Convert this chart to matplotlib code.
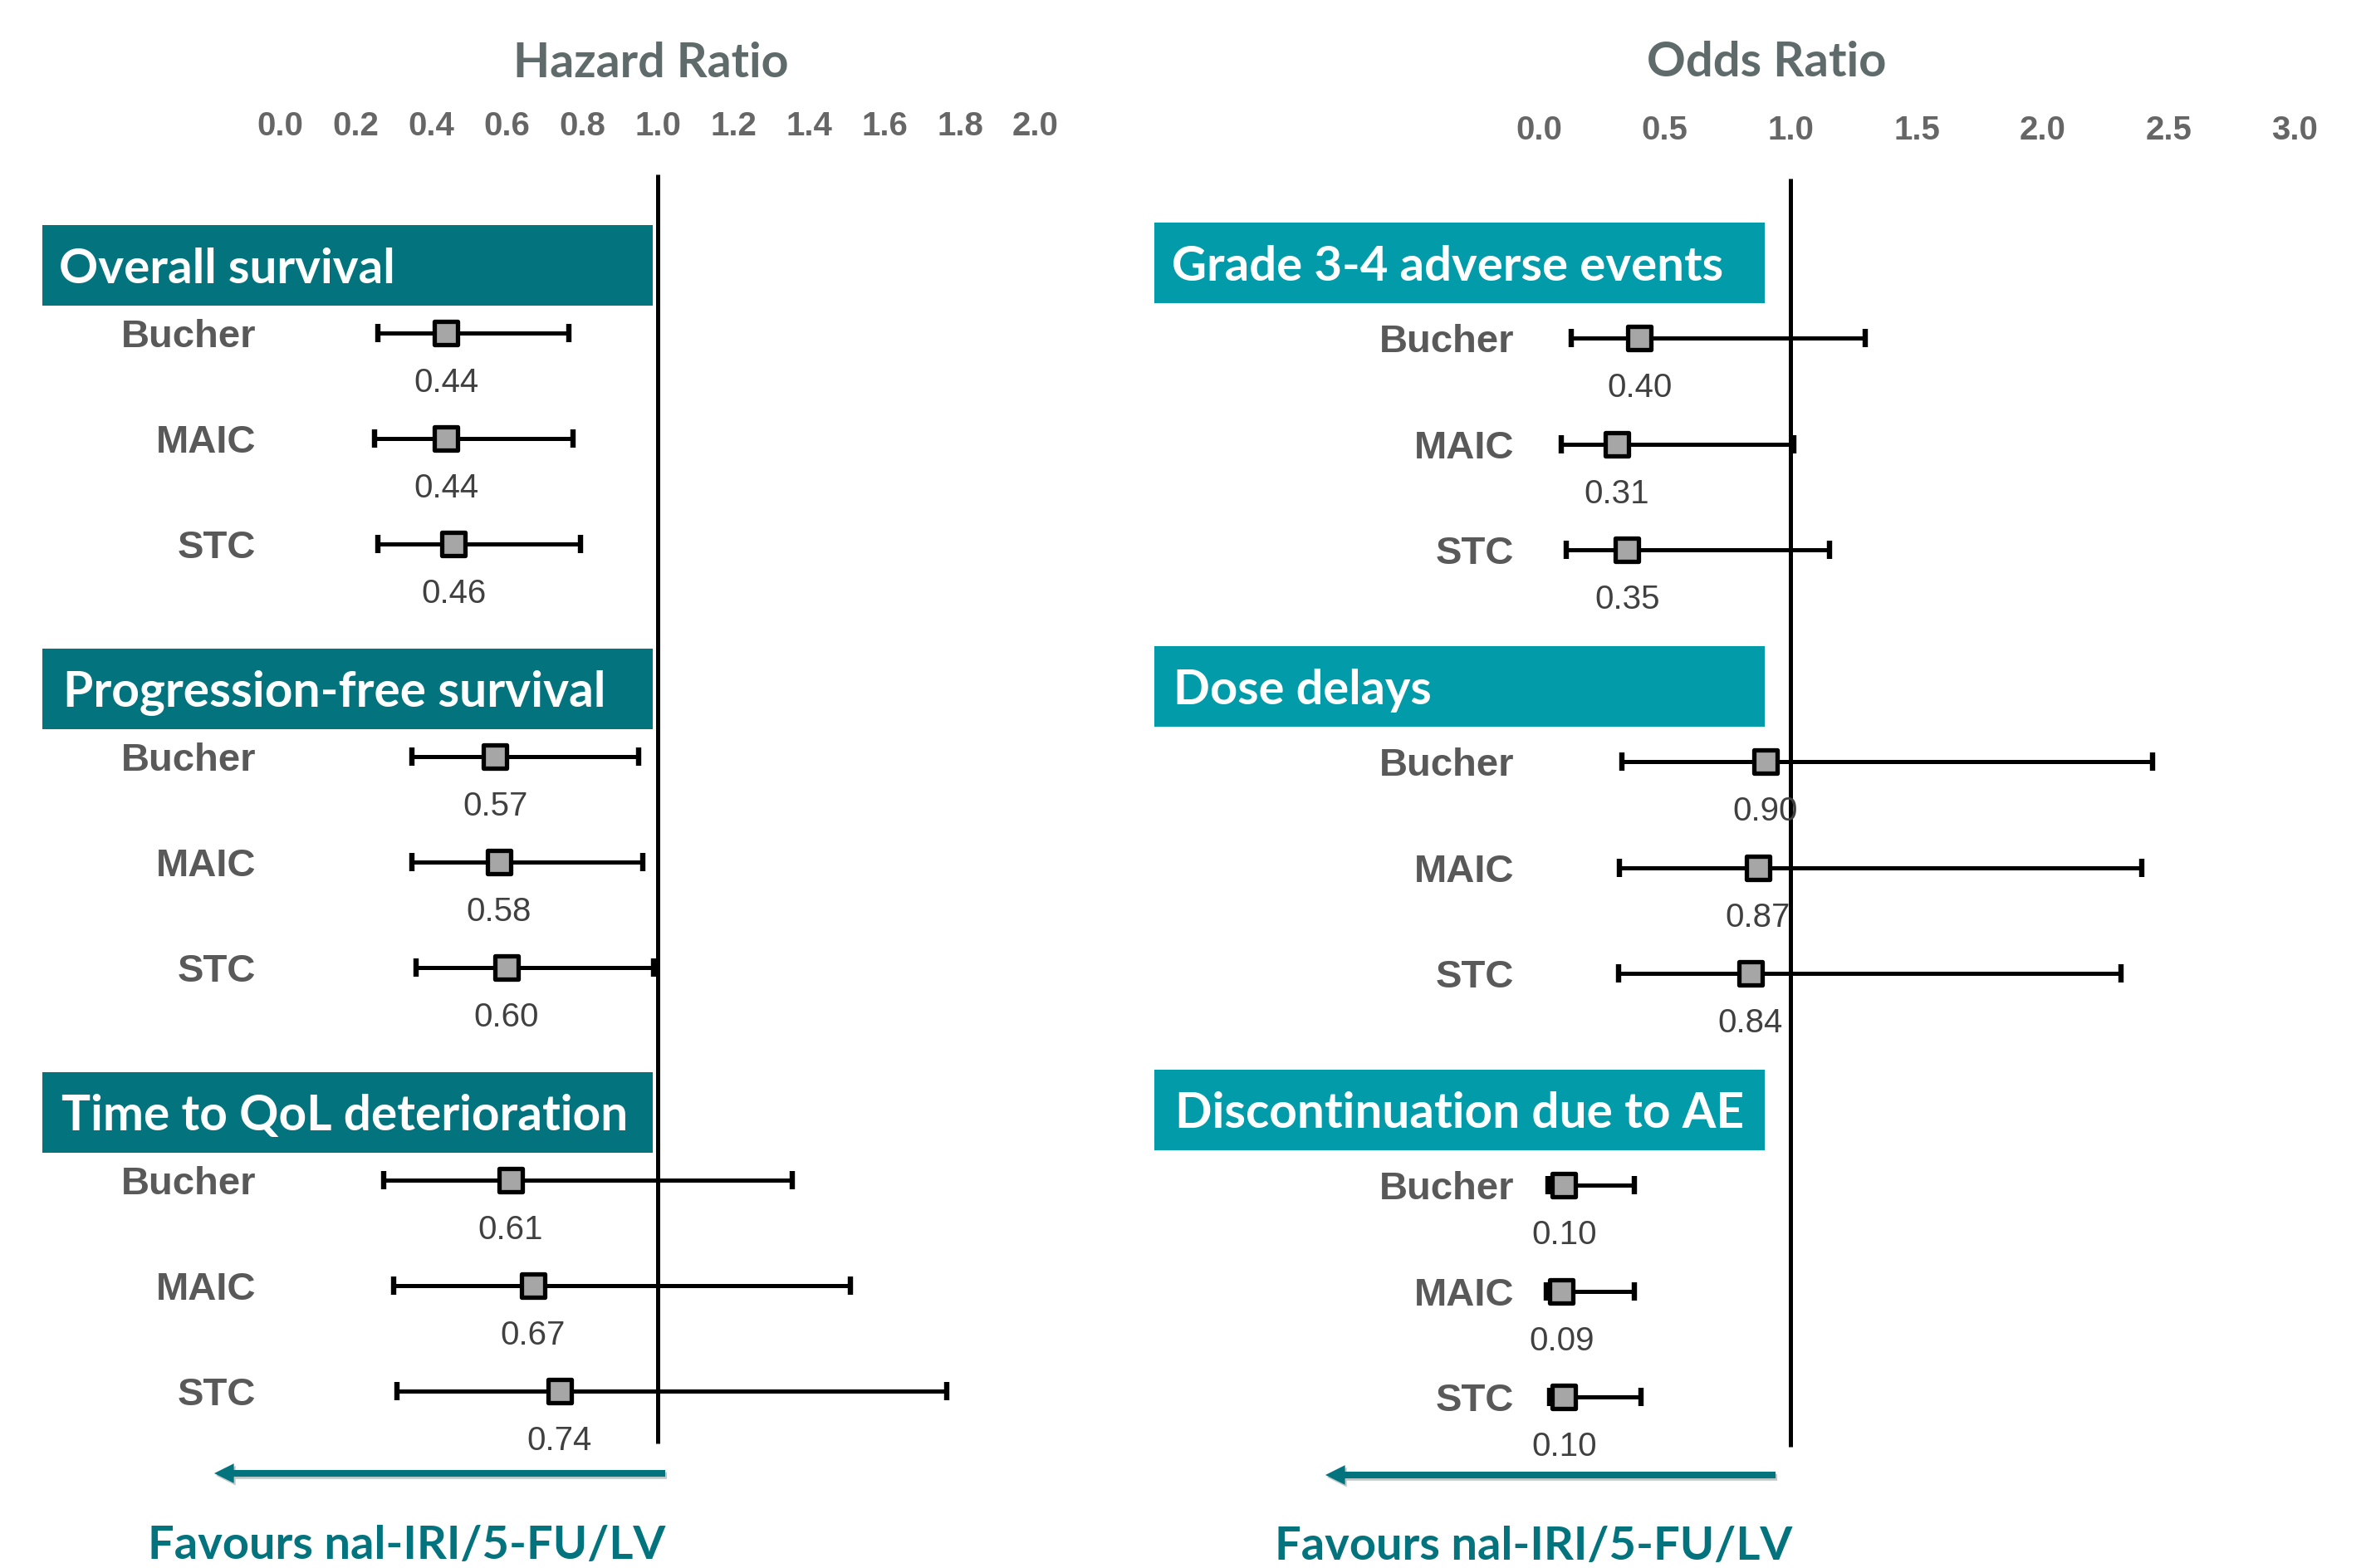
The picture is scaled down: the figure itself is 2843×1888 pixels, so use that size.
import matplotlib
matplotlib.use("Agg")
import matplotlib.pyplot as plt
from matplotlib.patches import Rectangle, FancyArrowPatch
from matplotlib.markers import MarkerStyle
import matplotlib.patheffects as pe

# ---------------------------------------------------------------- data
methods = ["Bucher", "MAIC", "STC"]

hr_title = "Hazard Ratio"
hr_outcomes = ["Overall survival", "Progression-free survival", "Time to QoL deterioration"]
hr_est = [[0.44, 0.44, 0.46], [0.57, 0.58, 0.60], [0.61, 0.67, 0.74]]
hr_low = [[0.26, 0.25, 0.26], [0.35, 0.35, 0.36], [0.275, 0.30, 0.31]]
hr_high = [[0.765, 0.775, 0.795], [0.95, 0.96, 0.99], [1.355, 1.51, 1.765]]
hr_ticks = [0.0, 0.2, 0.4, 0.6, 0.8, 1.0, 1.2, 1.4, 1.6, 1.8, 2.0]

or_title = "Odds Ratio"
or_outcomes = ["Grade 3-4 adverse events", "Dose delays", "Discontinuation due to AE"]
or_est = [[0.40, 0.31, 0.35], [0.90, 0.87, 0.84], [0.10, 0.09, 0.10]]
or_low = [[0.13, 0.09, 0.11], [0.33, 0.32, 0.315], [0.036, 0.03, 0.042]]
or_high = [[1.295, 1.013, 1.153], [2.437, 2.393, 2.311], [0.379, 0.379, 0.406]]
or_ticks = [0.0, 0.5, 1.0, 1.5, 2.0, 2.5, 3.0]

favours_text = "Favours nal-IRI/5-FU/LV"

# ---------------------------------------------------------------- styling
W, H, DPI = 2843, 1888, 100
DARK_TEAL = "#03737E"
LIGHT_TEAL = "#029BA9"
TITLE_GREY = "#5F6B6A"
LABEL_GREY = "#595959"
VALUE_GREY = "#404040"
HEAD_FONT = "Lato"
BODY_FONT = "Liberation Sans"

fig = plt.figure(figsize=(W / DPI, H / DPI), dpi=DPI)
fig.patch.set_facecolor("white")
renderer = fig.canvas.get_renderer()


def fx(px):
    return px / W


def fy(py):
    return 1 - py / H


def fit_width(txt, width_px):
    bb = txt.get_window_extent(renderer)
    txt.set_fontsize(txt.get_fontsize() * width_px / bb.width)


def panel(
    ax_left_px, ax_right_px, zero_px, unit_px, ticks, tick_fmt, tick_base,
    title, title_cx, title_w, title_base,
    outcomes, est, low, high, head_color, row0, row_step, sec_step,
    box_x0, box_x1, box_top0, text_x, text_w,
    label_right, ref_top, ref_bot,
    arrow_x0, arrow_x1, arrow_y, fav_x, fav_base,
):
    ax = fig.add_axes([fx(ax_left_px), 0, fx(ax_right_px - ax_left_px), 1])
    ax.set_xlim((ax_left_px - zero_px) / unit_px, (ax_right_px - zero_px) / unit_px)
    ax.set_ylim(H, 0)
    ax.axis("off")

    # scale labels across the top
    for t in ticks:
        ax.text(t, tick_base, tick_fmt.format(t), ha="center", va="baseline",
                fontsize=29, fontweight="bold", color="#666666", family=BODY_FONT)

    # axis title
    tt = fig.text(fx(title_cx), fy(title_base), title, ha="center", va="baseline",
                  fontsize=40, fontweight="bold", color=TITLE_GREY, family=HEAD_FONT)
    fit_width(tt, title_w)

    # line of no effect
    ax.vlines(1.0, ref_top, ref_bot, color="black", lw=3.6, zorder=3)

    for s, outcome in enumerate(outcomes):
        top = box_top0 + s * sec_step
        fig.patches.append(Rectangle((fx(box_x0), fy(top + 97)), fx(box_x1 - box_x0), 97 / H,
                                     transform=fig.transFigure, facecolor=head_color,
                                     edgecolor="none", zorder=1))
        ht = fig.text(fx(text_x[s]), fy(top + 70), outcome, ha="left", va="baseline",
                      fontsize=45, fontweight="bold", color="white", family=HEAD_FONT, zorder=2)
        fit_width(ht, text_w[s])

        ys = [row0 + s * sec_step + r * row_step for r in range(len(methods))]
        e, lo, hi = est[s], low[s], high[s]
        ax.errorbar(e, ys, xerr=[[a - b for a, b in zip(e, lo)], [c - a for a, c in zip(e, hi)]],
                    fmt="none", ecolor="black", elinewidth=3.6, capsize=8, capthick=4.6, zorder=4)
        ax.plot(e, ys, linestyle="none", marker=MarkerStyle("s", joinstyle="round"),
                ms=20, mfc="#A6A6A6", mec="black", mew=3.8, zorder=5)
        for m, y, v in zip(methods, ys, e):
            ax.text((label_right - zero_px) / unit_px, y + 17, m, ha="right", va="baseline",
                    fontsize=34, fontweight="bold", color=LABEL_GREY, family=BODY_FONT)
            ax.text(v, y + 71, f"{v:.2f}", ha="center", va="baseline",
                    fontsize=29, color=VALUE_GREY, family=BODY_FONT, zorder=6)

    # direction arrow and caption
    arr = FancyArrowPatch((fx(arrow_x0), fy(arrow_y)), (fx(arrow_x1), fy(arrow_y)),
                          transform=fig.transFigure,
                          arrowstyle="simple,head_length=17,head_width=17,tail_width=5.8",
                          mutation_scale=1, shrinkA=0, shrinkB=0,
                          facecolor=DARK_TEAL, edgecolor="none")
    arr.set_path_effects([pe.SimplePatchShadow(offset=(1.5, -2), alpha=0.25), pe.Normal()])
    fig.patches.append(arr)
    ft = fig.text(fx(fav_x), fy(fav_base), favours_text, ha="left", va="baseline",
                  fontsize=40, fontweight="bold", color=DARK_TEAL, family=HEAD_FONT)
    fit_width(ft, 623)
    return ax


panel(0, 1421, 337, 455.0, hr_ticks, "{:.1f}", 163,
      hr_title, 784, 331, 93,
      hr_outcomes, hr_est, hr_low, hr_high, DARK_TEAL, 401, 127, 510,
      51, 786, 271, [71, 76, 74], [405, 652, 682],
      308, 210, 1738,
      801, 258, 1774, 178, 1877)

panel(1421, 2843, 1853, 303.33, or_ticks, "{:.1f}", 168,
      or_title, 2127, 288, 92,
      or_outcomes, or_est, or_low, or_high, LIGHT_TEAL, 407, 127.5, 510,
      1390, 2125, 268, [1411, 1413, 1415], [665, 311, 686],
      1823, 215, 1742,
      2138, 1596, 1776, 1535, 1878)

fig.savefig("out.png", dpi=DPI, facecolor="white")
